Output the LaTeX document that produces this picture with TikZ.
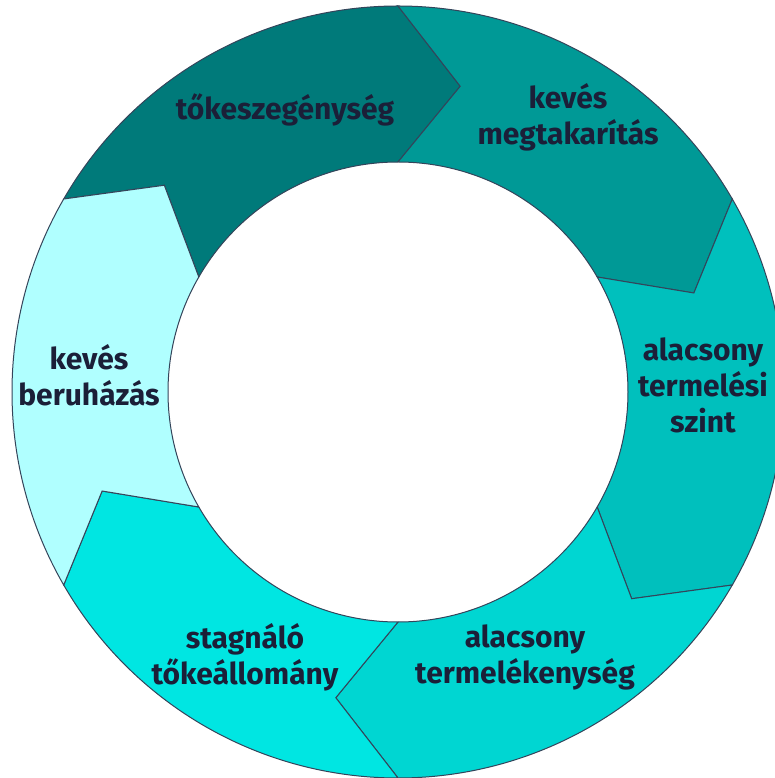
\documentclass[tikz,border=0pt]{standalone}
\usepackage{fontspec}
\setmainfont{Fira Sans}
\definecolor{ringdark}{RGB}{0,122,122}
\definecolor{ringmid}{RGB}{0,153,150}
\definecolor{ringright}{RGB}{0,192,189}
\definecolor{ringlow}{RGB}{0,214,210}
\definecolor{ringbright}{RGB}{0,230,226}
\definecolor{ringpale}{RGB}{176,255,255}
\definecolor{segline}{RGB}{52,68,90}
\definecolor{labelnavy}{RGB}{27,31,56}

\begin{document}
\begin{tikzpicture}[x=1pt, y=1pt,
  segment/.style={draw=segline, line width=1pt, line join=miter},
  steplabel/.style={font=\bfseries\fontsize{30}{36}\selectfont, text=labelnavy, align=center, inner sep=0pt}]
\useasboundingbox (-398,-386) rectangle (376,392);
% ring of six chevron arrows, clockwise
\foreach \a/\col in {150/ringdark, 90/ringmid, 30/ringright, -30/ringlow, -90/ringbright, -150/ringpale}{
  \pgfmathsetmacro\b{\a-60}
  \draw[segment, fill=\col] (\a:386pt) arc[start angle=\a, end angle=\b, radius=386pt]
    -- ({\b-11.5}:312pt) -- (\b:230pt)
    arc[start angle=\b, end angle=\a, radius=230pt]
    -- ({\a-11.5}:312pt) -- cycle;
}
\node[steplabel] (capital) at (-113,282) {tőkeszegénység};
\node[steplabel] (savings) at (170,275) {kevés\\megtakarítás};
\node[steplabel] (output) at (305,7) {alacsony\\termelési\\szint};
\node[steplabel] (productivity) at (127,-265) {alacsony\\termelékenység};
\node[steplabel] (stock) at (-153,-265) {stagnáló\\tőkeállomány};
\node[steplabel] (investment) at (-309,17) {kevés\\beruházás};
\end{tikzpicture}
\end{document}
